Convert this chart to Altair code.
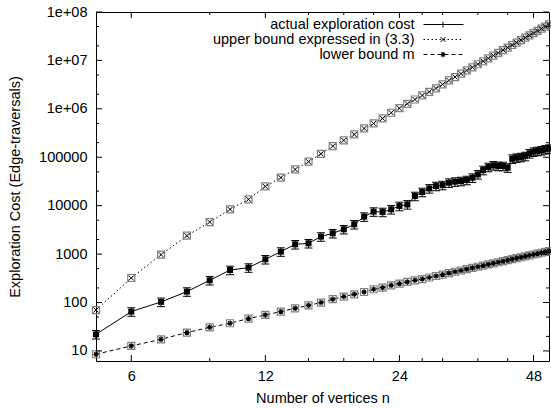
import altair as alt
import pandas as pd

# ---------------- data ----------------
n_vals = list(range(5, 53))
actual = [22, 65, 103, 168, 288, 469, 526, 780, 1125, 1590, 1670, 2300, 2690,
          3250, 4120, 5930, 7530, 7390, 8390, 9820, 10600, 15800, 19100, 22700,
          25400, 26600, 29800, 31300, 32200, 33800, 37800, 44300, 54300, 62700,
          67900, 65800, 65800, 61000, 93300, 97900, 100700, 105600, 120200,
          130300, 134100, 138600, 145300, 150000]
upper = [70, 321, 975, 2400, 4590, 8400, 13500, 25000, 38000, 56000, 81000,
         118000, 170000, 223000, 296000, 394000, 500000, 634000, 831000,
         1030000, 1270000, 1560000, 1890000, 2250000, 2640000, 3200000,
         3860000, 4540000, 5320000, 6210000, 7210000, 8340000, 9600000,
         11000000, 12600000, 14300000, 16300000, 18400000, 20800000, 23400000,
         26300000, 29500000, 32900000, 36600000, 40800000, 45300000, 50100000,
         55400000]
lower = [8.55, 12.7, 17.4, 24, 30.8, 37.3, 46.7, 55.4, 65, 76, 87, 100, 117,
         133, 148, 165, 188, 203, 227, 246, 266, 288, 305, 329, 353, 378, 405,
         432, 459, 488, 518, 548, 579, 612, 645, 679, 713, 749, 786, 823, 861,
         900, 940, 981, 1023, 1066, 1109, 1154]
actual_err = 0.2  # relative half-width of the error bars

x_major = [6, 12, 24, 48]
x_minor = [9, 15, 18, 21, 27, 30, 36, 42]
y_major = [10, 100, 1000, 10000, 100000, 1000000, 10000000, 100000000]
y_minor = [20, 50, 200, 500, 2000, 5000, 20000, 50000, 200000, 500000,
           2000000, 5000000, 20000000, 50000000]
legend_labels = ["actual exploration cost", "upper bound expressed in (3.3)",
                 "lower bound m"]

# ---------------- tables ----------------
df = pd.DataFrame({"n": n_vals, "actual": actual, "upper": upper, "lower": lower})
df["lo"] = df["actual"] * (1 - actual_err)
df["hi"] = df["actual"] * (1 + actual_err)

W, H = 453, 349
FONT = "Liberation Sans"
FS = 14.5

xs = alt.Scale(type="log", domain=[5, 52], nice=False, zero=False)
ys = alt.Scale(type="log", domain=[6.2, 1e8], nice=False, zero=False)

xaxis = alt.Axis(values=x_major, format="d", title="Number of vertices n",
                 ticks=False, tickSize=0, domain=False, grid=False,
                 labelPadding=8, titleY=37, titleBaseline="middle",
                 labelFlush=False)
yaxis = alt.Axis(values=y_major, title="Exploration Cost (Edge-traversals)",
                 ticks=False, tickSize=0, domain=False, grid=False,
                 labelPadding=9, titleX=-81, titleBaseline="middle",
                 labelExpr="datum.value >= 1000000 ? '1e+0' + round(log(datum.value)/LN10) : format(datum.value, 'd')")


def XE(field):
    return alt.X(f"{field}:Q", scale=xs, axis=xaxis)


def YE(field):
    return alt.Y(f"{field}:Q", scale=ys, axis=yaxis)


base = alt.Chart(df)
X = XE("n")

line_actual = base.mark_line(color="black", strokeWidth=1).encode(x=X, y=YE("actual"))
line_upper = base.mark_line(color="black", strokeWidth=1, strokeDash=[1.5, 2.5]).encode(x=X, y=YE("upper"))
line_lower = base.mark_line(color="black", strokeWidth=1, strokeDash=[4, 3]).encode(x=X, y=YE("lower"))

err_rule = base.mark_rule(color="black", strokeWidth=1).encode(
    x=X, y=YE("lo"), y2="hi:Q")
cap_path = "M-1,0L1,0"
cap_lo = base.mark_point(shape=cap_path, size=64, stroke="black", strokeWidth=1,
                         filled=False, opacity=1).encode(x=X, y=YE("lo"))
cap_hi = base.mark_point(shape=cap_path, size=64, stroke="black", strokeWidth=1,
                         filled=False, opacity=1).encode(x=X, y=YE("hi"))

pt_actual = base.mark_point(shape="square", size=36, filled=True, color="black",
                            opacity=1).encode(x=X, y=YE("actual"))

box_kw = dict(shape="square", size=49, filled=False, stroke="#808080", strokeWidth=1.2, opacity=1)
xshape = "M-1,-1L1,1M1,-1L-1,1"
star = "M-1,0L1,0M0,-1L0,1M-0.7,-0.7L0.7,0.7M0.7,-0.7L-0.7,0.7"
box_upper = base.mark_point(**box_kw).encode(x=X, y=YE("upper"))
pt_upper = base.mark_point(shape=xshape, size=25, filled=False, stroke="black",
                           strokeWidth=1, opacity=1).encode(x=X, y=YE("upper"))
box_lower = base.mark_point(**box_kw).encode(x=X, y=YE("lower"))
pt_lower = base.mark_point(shape=star, size=30, filled=False, stroke="black",
                           strokeWidth=1.2, opacity=1).encode(x=X, y=YE("lower"))

# ---------------- inward ticks (gnuplot style, mirrored) ----------------
xmaj = pd.DataFrame({"v": x_major})
xmin = pd.DataFrame({"v": x_minor})
ymaj = pd.DataFrame({"v": y_major})
ymin = pd.DataFrame({"v": y_minor})


def xticks(d, L):
    xe = XE("v")
    b = alt.Chart(d).mark_rule(color="black", strokeWidth=1).encode(
        x=xe, y=alt.value(H - L), y2=alt.value(H))
    t = alt.Chart(d).mark_rule(color="black", strokeWidth=1).encode(
        x=xe, y=alt.value(0), y2=alt.value(L))
    return [b, t]


def yticks(d, L):
    ye = YE("v")
    l = alt.Chart(d).mark_rule(color="black", strokeWidth=1).encode(
        y=ye, x=alt.value(0), x2=alt.value(L))
    r = alt.Chart(d).mark_rule(color="black", strokeWidth=1).encode(
        y=ye, x=alt.value(W - L), x2=alt.value(W))
    return [l, r]


ticks = xticks(xmaj, 6) + xticks(xmin, 3) + yticks(ymaj, 6) + yticks(ymin, 3)

# ---------------- legend (top right, gnuplot style) ----------------
leg_layers = []
row_y = [12.5, 27.5, 42.5]
dashes = [None, [1.5, 2.5], [4, 3]]
for i, lab in enumerate(legend_labels):
    ld = pd.DataFrame({"t": [lab]})
    leg_layers.append(alt.Chart(ld).mark_text(align="right", baseline="middle",
                                               font=FONT, fontSize=FS, color="black").encode(
        text="t:N", x=alt.value(318.5), y=alt.value(row_y[i])))
    rkw = dict(color="black", strokeWidth=1)
    if dashes[i] is not None:
        rkw["strokeDash"] = dashes[i]
    leg_layers.append(alt.Chart(ld).mark_rule(**rkw).encode(
        x=alt.value(327.5), x2=alt.value(367.5), y=alt.value(row_y[i])))
    if i == 0:
        leg_layers.append(alt.Chart(ld).mark_rule(color="black", strokeWidth=1).encode(
            x=alt.value(347), y=alt.value(row_y[i] - 3), y2=alt.value(row_y[i] + 3)))
    elif i == 1:
        leg_layers.append(alt.Chart(ld).mark_point(shape=xshape, size=25, filled=False,
                                                   stroke="black", strokeWidth=1, opacity=1).encode(
            x=alt.value(347), y=alt.value(row_y[i])))
    else:
        leg_layers.append(alt.Chart(ld).mark_point(shape=star, size=30, filled=False,
                                                   stroke="black", strokeWidth=1.2, opacity=1).encode(
            x=alt.value(347), y=alt.value(row_y[i])))

chart = alt.layer(
    line_upper, line_lower, line_actual,
    err_rule, cap_lo, cap_hi,
    box_upper, pt_upper, box_lower, pt_lower, pt_actual,
    *ticks, *leg_layers
).properties(
    width=W, height=H,
    autosize=alt.AutoSizeParams(type="none"),
    padding={"left": 96, "top": 12, "right": 2, "bottom": 47},
    background="white",
).configure_view(
    stroke="black", strokeWidth=1
).configure_axis(
    labelFont=FONT, titleFont=FONT, labelFontSize=FS, titleFontSize=FS,
    labelColor="black", titleColor="black", titleFontWeight="normal",
)

chart.save("out.html", embed_options={"renderer": "svg", "actions": False})
